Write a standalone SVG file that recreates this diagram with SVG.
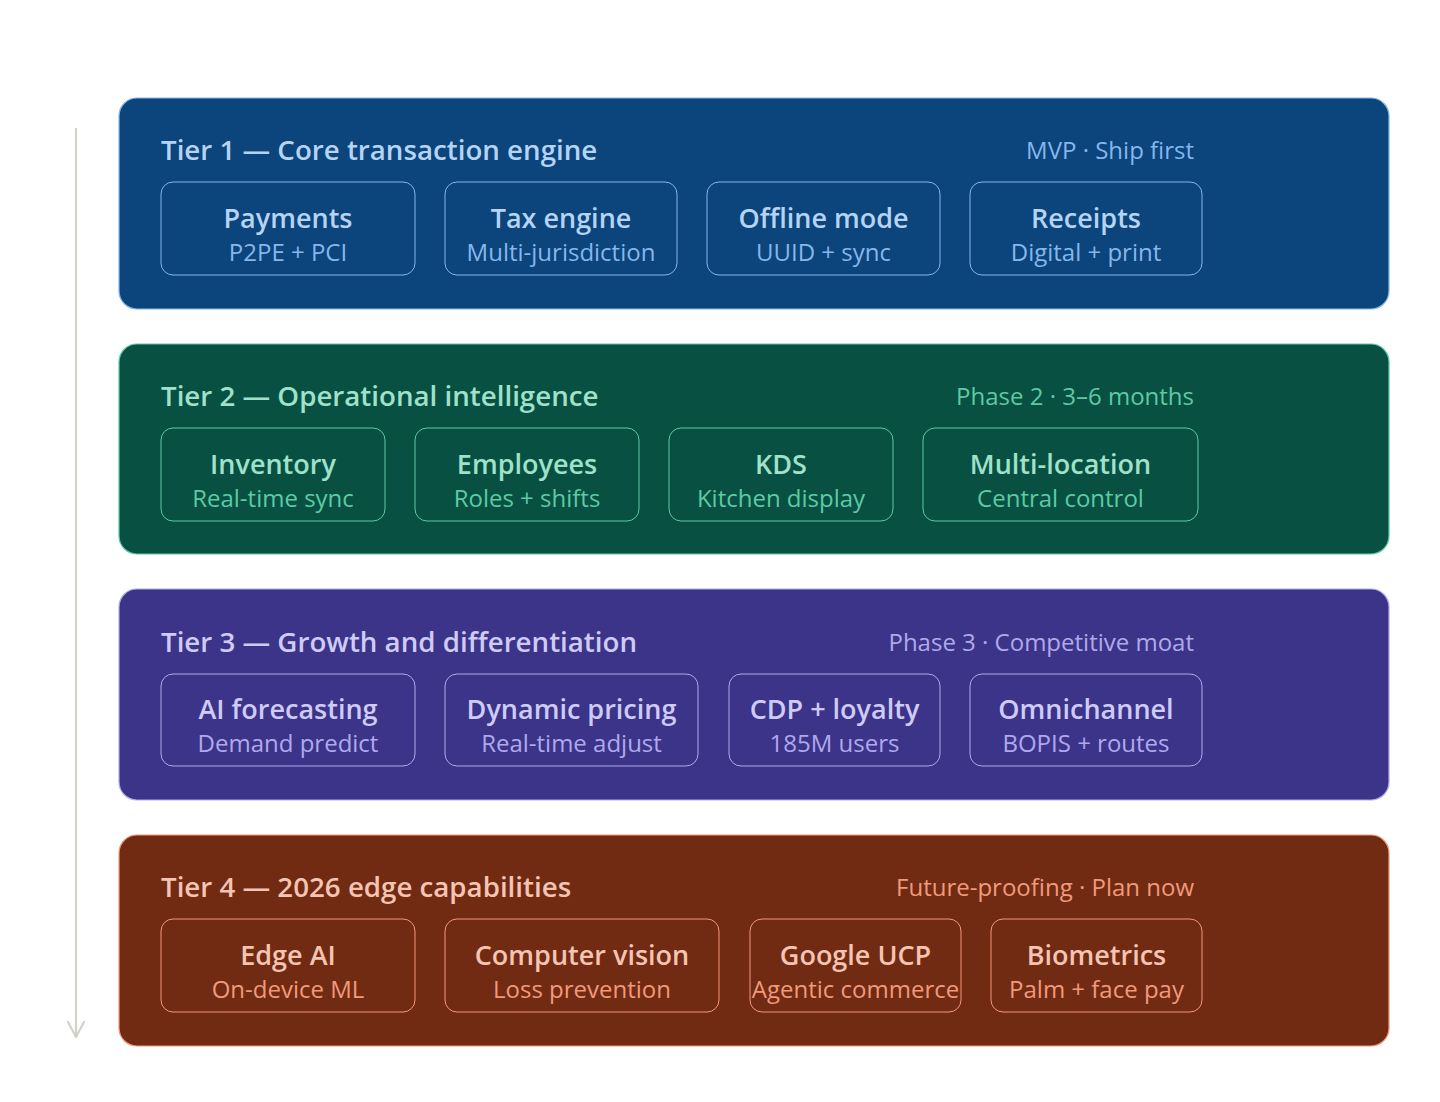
<svg xmlns="http://www.w3.org/2000/svg" width="1440" height="1102" viewBox="0 0 1440 1102">
<defs>
<style>
.tier{stroke-width:1.2}
.node{fill:none;stroke-width:1}
.tt{font-family:"Open Sans","Noto Sans",sans-serif;font-size:27.7px;font-weight:600}
.ts{font-family:"Open Sans","Noto Sans",sans-serif;font-size:24px;font-weight:400;text-anchor:end}
.nt{font-family:"Open Sans","Noto Sans",sans-serif;font-size:27px;font-weight:600;text-anchor:middle}
.ns{font-family:"Open Sans","Noto Sans",sans-serif;font-size:24px;font-weight:400;text-anchor:middle}
.b .tier{fill:#0C447C;stroke:#85B7EB}.b .node{stroke:#85B7EB}.b .tt,.b .nt{fill:#B5D4F4}.b .ts,.b .ns{fill:#85B7EB}
.g .tier{fill:#085041;stroke:#5DCAA5}.g .node{stroke:#5DCAA5}.g .tt,.g .nt{fill:#9FE1CB}.g .ts,.g .ns{fill:#5DCAA5}
.p .tier{fill:#3C3489;stroke:#AFA9EC}.p .node{stroke:#AFA9EC}.p .tt,.p .nt{fill:#CECBF6}.p .ts,.p .ns{fill:#AFA9EC}
.c .tier{fill:#712B13;stroke:#F0997B}.c .node{stroke:#F0997B}.c .tt,.c .nt{fill:#F5C4B3}.c .ts,.c .ns{fill:#F0997B}
</style>
<marker id="arr" viewBox="0 0 20 20" refX="18" refY="10" markerWidth="20" markerHeight="20" markerUnits="userSpaceOnUse" orient="auto">
<path d="M3 2 L18 10 L3 18" fill="none" stroke="#D3D1C7" stroke-width="2.2" stroke-linecap="round" stroke-linejoin="round"/>
</marker>
</defs>
<rect width="1440" height="1102" fill="#ffffff"/>
<g id="connectors">
<line x1="76" y1="128" x2="76" y2="1037" stroke="#D3D1C7" stroke-width="2.2" marker-end="url(#arr)"/>
</g>
<g id="tier1" class="b">
<rect class="tier" x="119" y="98" width="1270" height="211" rx="18"/>
<text class="tt" x="161" y="160">Tier 1 — Core transaction engine</text>
<text class="ts" x="1194" y="159">MVP · Ship first</text>
<g id="payments"><rect class="node" x="161" y="182" width="254" height="93" rx="12"/><text class="nt" x="288" y="228">Payments</text><text class="ns" x="288" y="261">P2PE + PCI</text></g>
<g id="tax-engine"><rect class="node" x="445" y="182" width="232" height="93" rx="12"/><text class="nt" x="561" y="228">Tax engine</text><text class="ns" x="561" y="261">Multi-jurisdiction</text></g>
<g id="offline-mode"><rect class="node" x="707" y="182" width="233" height="93" rx="12"/><text class="nt" x="823.5" y="228">Offline mode</text><text class="ns" x="823.5" y="261">UUID + sync</text></g>
<g id="receipts"><rect class="node" x="970" y="182" width="232" height="93" rx="12"/><text class="nt" x="1086" y="228">Receipts</text><text class="ns" x="1086" y="261">Digital + print</text></g>
</g>
<g id="tier2" class="g">
<rect class="tier" x="119" y="344" width="1270" height="210" rx="18"/>
<text class="tt" x="161" y="406">Tier 2 — Operational intelligence</text>
<text class="ts" x="1194" y="405">Phase 2 · 3–6 months</text>
<g id="inventory"><rect class="node" x="161" y="428" width="224" height="93" rx="12"/><text class="nt" x="273" y="474">Inventory</text><text class="ns" x="273" y="507">Real-time sync</text></g>
<g id="employees"><rect class="node" x="415" y="428" width="224" height="93" rx="12"/><text class="nt" x="527" y="474">Employees</text><text class="ns" x="527" y="507">Roles + shifts</text></g>
<g id="kds"><rect class="node" x="669" y="428" width="224" height="93" rx="12"/><text class="nt" x="781" y="474">KDS</text><text class="ns" x="781" y="507">Kitchen display</text></g>
<g id="multi-location"><rect class="node" x="923" y="428" width="275" height="93" rx="12"/><text class="nt" x="1060.5" y="474">Multi-location</text><text class="ns" x="1060.5" y="507">Central control</text></g>
</g>
<g id="tier3" class="p">
<rect class="tier" x="119" y="589" width="1270" height="211" rx="18"/>
<text class="tt" x="161" y="652">Tier 3 — Growth and differentiation</text>
<text class="ts" x="1194" y="651">Phase 3 · Competitive moat</text>
<g id="ai-forecasting"><rect class="node" x="161" y="674" width="254" height="92" rx="12"/><text class="nt" x="288" y="719">AI forecasting</text><text class="ns" x="288" y="752">Demand predict</text></g>
<g id="dynamic-pricing"><rect class="node" x="445" y="674" width="253" height="92" rx="12"/><text class="nt" x="571.5" y="719">Dynamic pricing</text><text class="ns" x="571.5" y="752">Real-time adjust</text></g>
<g id="cdp-loyalty"><rect class="node" x="729" y="674" width="211" height="92" rx="12"/><text class="nt" x="834.5" y="719">CDP + loyalty</text><text class="ns" x="834.5" y="752">185M users</text></g>
<g id="omnichannel"><rect class="node" x="970" y="674" width="232" height="92" rx="12"/><text class="nt" x="1086" y="719">Omnichannel</text><text class="ns" x="1086" y="752">BOPIS + routes</text></g>
</g>
<g id="tier4" class="c">
<rect class="tier" x="119" y="835" width="1270" height="211" rx="18"/>
<text class="tt" x="161" y="897">Tier 4 — 2026 edge capabilities</text>
<text class="ts" x="1194" y="896">Future-proofing · Plan now</text>
<g id="edge-ai"><rect class="node" x="161" y="919" width="254" height="93" rx="12"/><text class="nt" x="288" y="965">Edge AI</text><text class="ns" x="288" y="998">On-device ML</text></g>
<g id="computer-vision"><rect class="node" x="445" y="919" width="274" height="93" rx="12"/><text class="nt" x="582" y="965">Computer vision</text><text class="ns" x="582" y="998">Loss prevention</text></g>
<g id="google-ucp"><rect class="node" x="750" y="919" width="211" height="93" rx="12"/><text class="nt" x="855.5" y="965">Google UCP</text><text class="ns" x="855.5" y="998">Agentic commerce</text></g>
<g id="biometrics"><rect class="node" x="991" y="919" width="211" height="93" rx="12"/><text class="nt" x="1096.5" y="965">Biometrics</text><text class="ns" x="1096.5" y="998">Palm + face pay</text></g>
</g>
</svg>
